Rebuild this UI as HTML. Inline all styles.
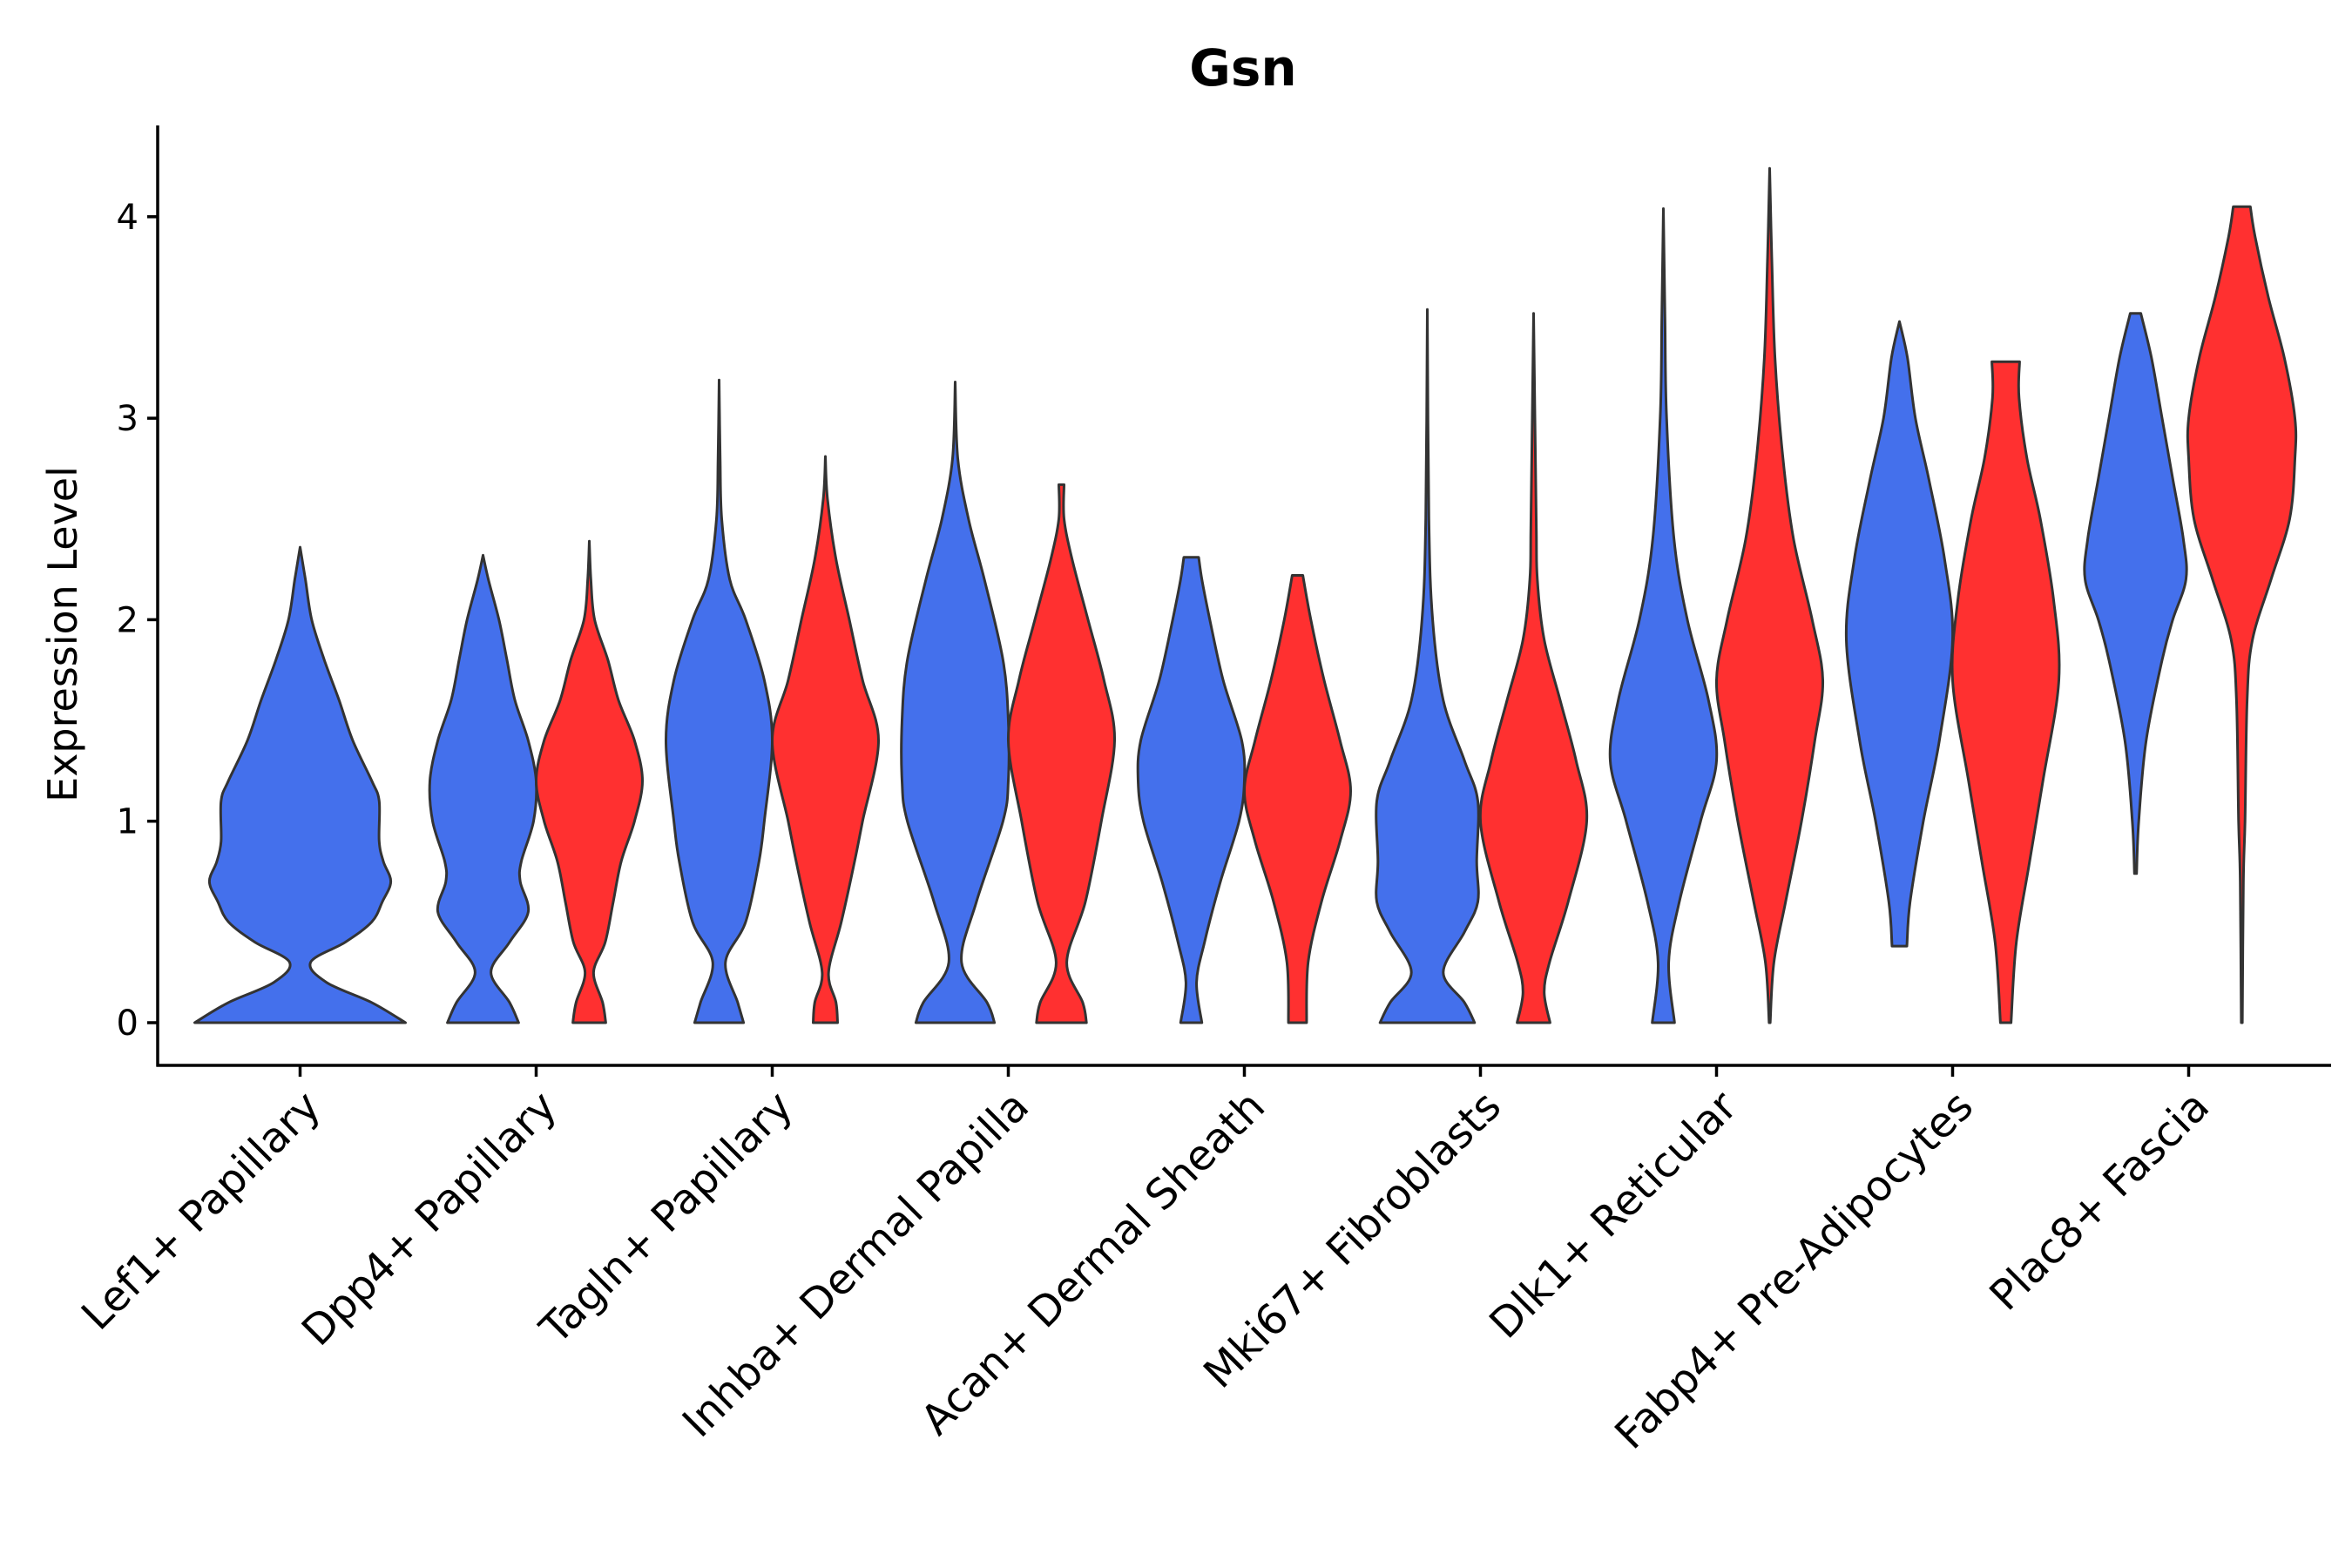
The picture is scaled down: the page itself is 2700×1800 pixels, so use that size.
<!DOCTYPE html>
<html><head><meta charset="utf-8">
<style>
html,body{margin:0;padding:0;background:#fff;}
svg{display:block;font-family:"DejaVu Sans","Liberation Sans",sans-serif;}
</style></head>
<body>
<svg id="chart" width="2700" height="1800" viewBox="0 0 2700 1800" xmlns="http://www.w3.org/2000/svg">
<text x="1427" y="98" text-anchor="middle" font-size="58" font-weight="bold">Gsn</text>
<text transform="translate(88,728) rotate(-90)" text-anchor="middle" font-size="46">Expression Level</text>
<g id="violins"></g>
<g id="axes"></g>
</svg>
<script>
const categories = ["Lef1+ Papillary","Dpp4+ Papillary","Tagln+ Papillary","Inhba+ Dermal Papilla","Acan+ Dermal Sheath","Mki67+ Fibroblasts","Dlk1+ Reticular","Fabp4+ Pre-Adipocytes","Plac8+ Fascia"];
const yTicks = [0,1,2,3,4];
// density profiles: [expression, relative half-width]
const blueProfiles = [
 [[0,1.0],[0.1,0.68],[0.2,0.25],[0.3,0.1],[0.4,0.43],[0.5,0.68],[0.6,0.78],[0.7,0.86],[0.8,0.79],[0.9,0.75],[1.1,0.75],[1.2,0.68],[1.4,0.5],[1.6,0.37],[1.8,0.23],[2.0,0.11],[2.2,0.05],[2.36,0]],
 [[0,0.67],[0.1,0.5],[0.25,0.15],[0.4,0.5],[0.55,0.85],[0.7,0.7],[0.8,0.72],[1.0,0.95],[1.2,1.0],[1.4,0.85],[1.6,0.6],[1.8,0.45],[2.0,0.3],[2.2,0.1],[2.32,0]],
 [[0,0.46],[0.1,0.35],[0.3,0.12],[0.5,0.5],[0.8,0.75],[1.0,0.85],[1.4,1.0],[1.7,0.85],[2.0,0.5],[2.2,0.2],[2.5,0.05],[2.8,0.02],[3.19,0]],
 [[0,0.74],[0.1,0.6],[0.3,0.12],[0.6,0.4],[1.0,0.9],[1.2,1.0],[1.5,1.0],[1.8,0.9],[2.2,0.55],[2.5,0.25],[2.8,0.05],[3.18,0]],
 [[0,0.2],[0.2,0.1],[0.4,0.25],[0.7,0.55],[1.0,0.9],[1.2,1.0],[1.4,0.95],[1.7,0.6],[2.0,0.35],[2.2,0.2],[2.31,0.14]],
 [[0,0.89],[0.1,0.7],[0.25,0.3],[0.45,0.7],[0.6,0.95],[0.8,0.93],[1.1,0.95],[1.3,0.7],[1.6,0.3],[2.0,0.1],[2.5,0.03],[3.54,0]],
 [[0,0.21],[0.3,0.1],[0.6,0.3],[1.0,0.7],[1.3,1.0],[1.6,0.85],[2.0,0.45],[2.4,0.2],[3.0,0.06],[3.5,0.03],[4.04,0]],
 [[0.38,0.14],[0.6,0.2],[1.0,0.45],[1.4,0.75],[1.9,1.0],[2.3,0.85],[2.7,0.55],[3.0,0.3],[3.3,0.15],[3.48,0]],
 [[0.74,0.02],[1.0,0.06],[1.4,0.2],[1.8,0.5],[2.0,0.7],[2.2,0.95],[2.4,0.9],[2.7,0.7],[3.0,0.5],[3.3,0.3],[3.52,0.1]]
];
const redProfiles = [
 null,
 [[0,0.31],[0.1,0.25],[0.25,0.08],[0.4,0.3],[0.6,0.45],[0.8,0.6],[1.0,0.85],[1.2,1.0],[1.4,0.85],[1.6,0.55],[1.8,0.35],[2.0,0.1],[2.2,0.03],[2.39,0]],
 [[0,0.23],[0.1,0.2],[0.25,0.06],[0.5,0.3],[0.8,0.55],[1.0,0.7],[1.4,1.0],[1.7,0.7],[2.0,0.45],[2.3,0.2],[2.6,0.04],[2.81,0]],
 [[0,0.47],[0.1,0.4],[0.3,0.1],[0.6,0.45],[1.0,0.75],[1.4,1.0],[1.7,0.8],[2.0,0.5],[2.3,0.2],[2.5,0.05],[2.67,0.05]],
 [[0,0.17],[0.3,0.2],[0.6,0.45],[0.9,0.8],[1.15,1.0],[1.4,0.8],[1.7,0.5],[2.0,0.25],[2.22,0.1]],
 [[0,0.31],[0.15,0.2],[0.3,0.3],[0.6,0.65],[1.0,1.0],[1.3,0.8],[1.6,0.5],[1.9,0.2],[2.2,0.07],[2.5,0.05],[3.52,0]],
 [[0,0.01],[0.3,0.08],[0.6,0.3],[1.0,0.6],[1.4,0.85],[1.7,1.0],[2.0,0.8],[2.4,0.45],[2.8,0.25],[3.3,0.1],[3.8,0.04],[4.24,0]],
 [[0,0.1],[0.4,0.2],[0.8,0.45],[1.2,0.7],[1.7,1.0],[2.1,0.9],[2.5,0.65],[2.8,0.4],[3.1,0.25],[3.28,0.26]],
 [[0,0.01],[0.7,0.03],[1.0,0.06],[1.6,0.1],[1.9,0.2],[2.2,0.55],[2.5,0.9],[2.8,1.0],[3.0,1.0],[3.3,0.8],[3.6,0.5],[3.9,0.25],[4.05,0.16]]
];
const NS="http://www.w3.org/2000/svg";
const X0=181, X1=2676, Y0=144, Y1=1223;
function yScale(v){return 1174 - v*231.3;}
function xScale(i){return 344.5 + i*271;}
function catmull(pts){
  let d="";
  for(let i=0;i<pts.length-1;i++){
    const p0=pts[Math.max(0,i-1)],p1=pts[i],p2=pts[i+1],p3=pts[Math.min(pts.length-1,i+2)];
    const c1=[p1[0]+(p2[0]-p0[0])/6,p1[1]+(p2[1]-p0[1])/6];
    const c2=[p2[0]-(p3[0]-p1[0])/6,p2[1]-(p3[1]-p1[1])/6];
    d+=` C${c1[0].toFixed(1)},${c1[1].toFixed(1)} ${c2[0].toFixed(1)},${c2[1].toFixed(1)} ${p2[0].toFixed(1)},${p2[1].toFixed(1)}`;
  }
  return d;
}
function violinPath(prof,cx,half){
  const right=prof.map(p=>[cx+p[1]*half,yScale(p[0])]);
  const left=prof.slice().reverse().map(p=>[cx-p[1]*half,yScale(p[0])]);
  let d=`M${(cx-prof[0][1]*half).toFixed(1)},${yScale(prof[0][0]).toFixed(1)} L${right[0][0].toFixed(1)},${right[0][1].toFixed(1)}`;
  d+=catmull(right);
  d+=` L${left[0][0].toFixed(1)},${left[0][1].toFixed(1)}`;
  d+=catmull(left);
  return d+" Z";
}
const vg=document.getElementById('violins');
categories.forEach((c,i)=>{
  const cx=xScale(i);
  const single=!redProfiles[i];
  const bp=document.createElementNS(NS,'path');
  bp.setAttribute('d',violinPath(blueProfiles[i],single?cx:cx-61,single?121:61));
  bp.setAttribute('fill','#4470EC');bp.setAttribute('stroke','#333');bp.setAttribute('stroke-width','3');bp.setAttribute('stroke-linejoin','round');
  
  
  vg.appendChild(bp);
  if(!single){
    const rp=document.createElementNS(NS,'path');
    rp.setAttribute('d',violinPath(redProfiles[i],cx+61,61));
    rp.setAttribute('fill','#FF3030');rp.setAttribute('stroke','#333');rp.setAttribute('stroke-width','3');rp.setAttribute('stroke-linejoin','round');
    
    
    vg.appendChild(rp);
  }
});
const ag=document.getElementById('axes');
function line(x1,y1,x2,y2,name){
  const l=document.createElementNS(NS,'line');
  l.setAttribute('x1',x1);l.setAttribute('y1',y1);l.setAttribute('x2',x2);l.setAttribute('y2',y2);
  l.setAttribute('stroke','#000');l.setAttribute('stroke-width','3.5');
  
  
  ag.appendChild(l);
}
line(X0,Y0,X0,Y1+1.5,'y-axis-line');
line(X0-1.5,Y1,X1,Y1,'x-axis-line');
yTicks.forEach(t=>{
  const y=yScale(t);
  line(X0-12,y,X0,y,'y-tick');
  const tx=document.createElementNS(NS,'text');
  tx.setAttribute('x',X0-22);tx.setAttribute('y',y+14);tx.setAttribute('text-anchor','end');tx.setAttribute('font-size','40');
  tx.textContent=t;
  
  
  ag.appendChild(tx);
});
categories.forEach((c,i)=>{
  const x=xScale(i);
  line(x,Y1,x,Y1+13,'x-tick');
  const tx=document.createElementNS(NS,'text');
  tx.setAttribute('transform',`translate(${x+26},${Y1+50}) rotate(-45)`);
  tx.setAttribute('text-anchor','end');tx.setAttribute('font-size','48');
  tx.textContent=c;
  
  
  ag.appendChild(tx);
});
</script>
</body></html>
